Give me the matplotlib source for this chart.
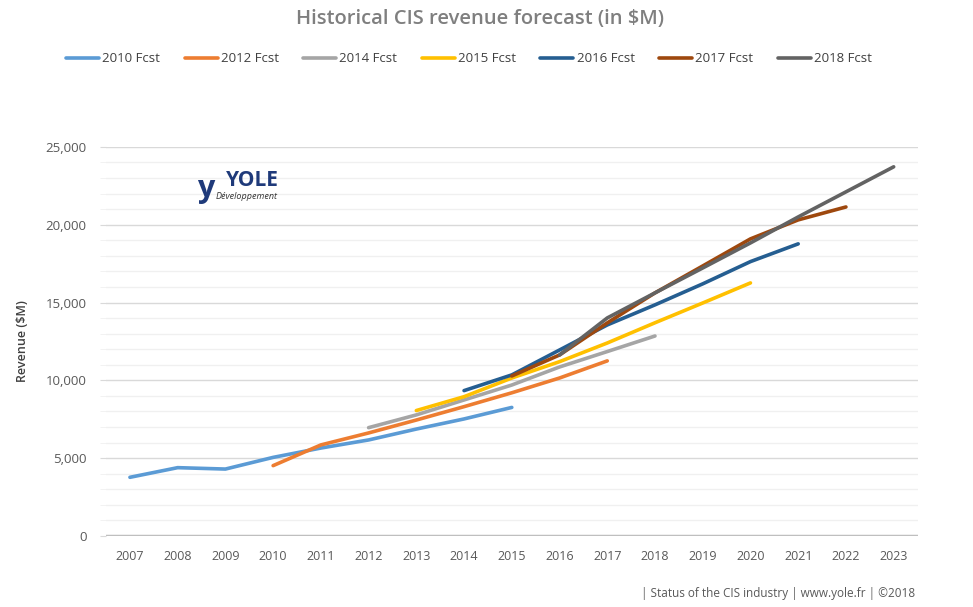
import matplotlib
matplotlib.use("Agg")
import matplotlib.pyplot as plt
import numpy as np

plt.rcParams["font.family"] = ["Open Sans", "DejaVu Sans"]

years = list(range(2007, 2024))

# forecast series: (label, first year, values in $M)
fc_2010 = [3770, 4390, 4300, 5050, 5650, 6170, 6870, 7520, 8260]
fc_2012 = [4520, 5850, 6620, 7450, 8310, 9200, 10150, 11250]
fc_2014 = [6960, 7780, 8740, 9700, 10860, 11850, 12850]
fc_2015 = [8060, 8950, 10150, 11200, 12400, 13700, 14970, 16260]
fc_2016 = [9340, 10350, 11950, 13560, 14850, 16200, 17630, 18770]
fc_2017 = [10280, 11630, 13690, 15620, 17350, 19090, 20310, 21140]
fc_2018 = [11630, 14010, 15620, 17220, 18830, 20500, 22110, 23720]

series = [
    ("2010 Fcst", 2007, fc_2010, "#5b9bd5"),
    ("2012 Fcst", 2010, fc_2012, "#ed7d31"),
    ("2014 Fcst", 2012, fc_2014, "#a5a5a5"),
    ("2015 Fcst", 2013, fc_2015, "#ffc000"),
    ("2016 Fcst", 2014, fc_2016, "#255e91"),
    ("2017 Fcst", 2015, fc_2017, "#9e480e"),
    ("2018 Fcst", 2016, fc_2018, "#636363"),
]

fig = plt.figure(figsize=(9.73, 6.07), dpi=100)
ax = fig.add_axes([0.109, 0.117, 0.834, 0.641])

for label, start, vals, color in series:
    xs = np.arange(start, start + len(vals))
    ax.plot(xs, vals, color=color, lw=2.6, solid_capstyle="round",
            solid_joinstyle="round", label=label, zorder=3)

ax.set_xlim(2006.5, 2023.5)
ax.set_ylim(0, 25000)
ax.set_xticks(years)
ax.set_xticklabels([str(y) for y in years])
ax.set_yticks(np.arange(0, 25001, 5000))
ax.set_yticklabels([f"{v:,}" for v in range(0, 25001, 5000)])
ax.set_yticks(np.arange(0, 25001, 1000), minor=True)

ax.grid(axis="y", which="major", color="#d9d9d9", lw=1.0, zorder=0)
ax.grid(axis="y", which="minor", color="#f0f0f0", lw=1.0, zorder=0)
ax.axhline(0, color="#bfbfbf", lw=2.5, zorder=2)
for s in ax.spines.values():
    s.set_visible(False)
ax.tick_params(axis="x", length=0, pad=10, labelsize=9, labelcolor="#595959")
ax.tick_params(axis="y", which="major", length=4, color="#d9d9d9", pad=10,
               labelsize=9.5, labelcolor="#595959")
ax.tick_params(axis="y", which="minor", length=4, color="#f0f0f0")

ax.set_ylabel("Revenue ($M)", fontsize=9, color="#404040", fontweight="semibold",
              labelpad=12)

fig.text(0.493, 0.968, "Historical CIS revenue forecast (in $M)", ha="center",
         va="center", fontsize=14.5, color="#7f7f7f", fontweight="semibold")

fig.legend(loc="center", bbox_to_anchor=(0.482, 0.903), ncol=7, frameon=False,
           fontsize=9.5, handlelength=2.5, handletextpad=0.25, columnspacing=1.85,
           labelcolor="#404040")

# logo
fig.text(0.232, 0.703, "YOLE", fontsize=15, fontweight="bold", color="#1f3a7a",
         va="center", ha="left")
fig.text(0.222, 0.677, "Développement", fontsize=6.5, style="italic",
         color="#333333", va="center", ha="left")
fig.text(0.203, 0.688, "y", fontsize=22, fontweight="bold", color="#1f3a7a",
         va="center", ha="left")

fig.text(0.941, 0.022, "| Status of the CIS industry | www.yole.fr | ©2018",
         ha="right", va="center", fontsize=8.5, color="#595959")

fig.savefig("out.png", dpi=100, facecolor="white")
